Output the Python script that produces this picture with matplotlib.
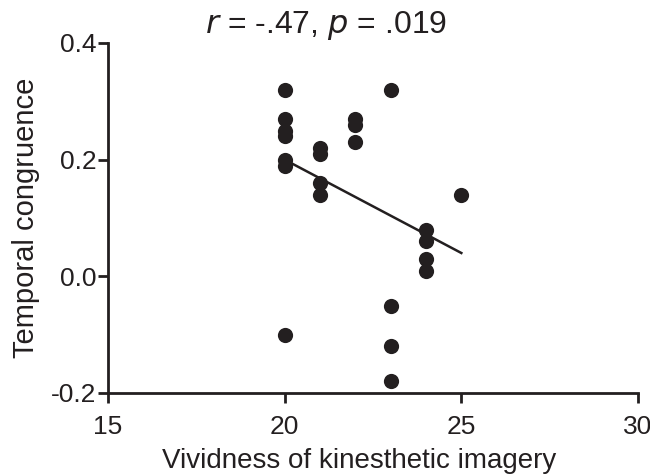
import numpy as np
import matplotlib
matplotlib.use("Agg")
import matplotlib.pyplot as plt

plt.rcParams['font.family'] = ['Liberation Sans', 'DejaVu Sans']

# vividness score / temporal congruence per participant
vividness = [20, 20, 20, 20, 20, 20, 20,
             21, 21, 21, 21,
             22, 22, 22,
             23, 23, 23, 23,
             24, 24, 24, 24,
             25]
congruence = [0.32, 0.27, 0.25, 0.24, 0.20, 0.19, -0.10,
              0.22, 0.21, 0.16, 0.14,
              0.27, 0.26, 0.23,
              0.32, -0.05, -0.12, -0.18,
              0.08, 0.06, 0.03, 0.01,
              0.14]
# regression line as drawn in the figure
fit_x = [20, 25]
fit_y = [0.20, 0.04]
xticks = [15, 20, 25, 30]
yticks = [-0.2, 0.0, 0.2, 0.4]

ink = '#231f20'

fig = plt.figure(figsize=(6.5, 4.75), dpi=100)
ax = fig.add_axes([108/650, 1 - 393/475, (638 - 108)/650, (393 - 43)/475])

ax.scatter(vividness, congruence, s=120, color=ink, zorder=3, linewidths=0)
ax.plot(fit_x, fit_y, color=ink, lw=1.8)

ax.set_xlim(15, 30)
ax.set_ylim(-0.2, 0.4)
ax.set_xticks(xticks)
ax.set_yticks(yticks)
ax.set_yticklabels([f"{v:.1f}" for v in yticks])
for s in ['top', 'right']:
    ax.spines[s].set_visible(False)
for s in ['left', 'bottom']:
    ax.spines[s].set_linewidth(2)
    ax.spines[s].set_color(ink)
ax.tick_params(width=2, length=7.5, labelsize=19, color=ink, labelcolor=ink)
ax.tick_params(axis='x', pad=8)
ax.tick_params(axis='y', pad=1)
ax.set_xlabel("Vividness of kinesthetic imagery", fontsize=20, color=ink)
ax.xaxis.set_label_coords(0.473, -0.156)
ax.set_ylabel("Temporal congruence", fontsize=21, labelpad=8, color=ink)

fig.text(326/650, 1 - 26/475, r"$\it{r}$ = -.47, $\it{p}$ = .019",
         ha='center', va='center', fontsize=23, color=ink)

fig.savefig("out.png", dpi=100)
